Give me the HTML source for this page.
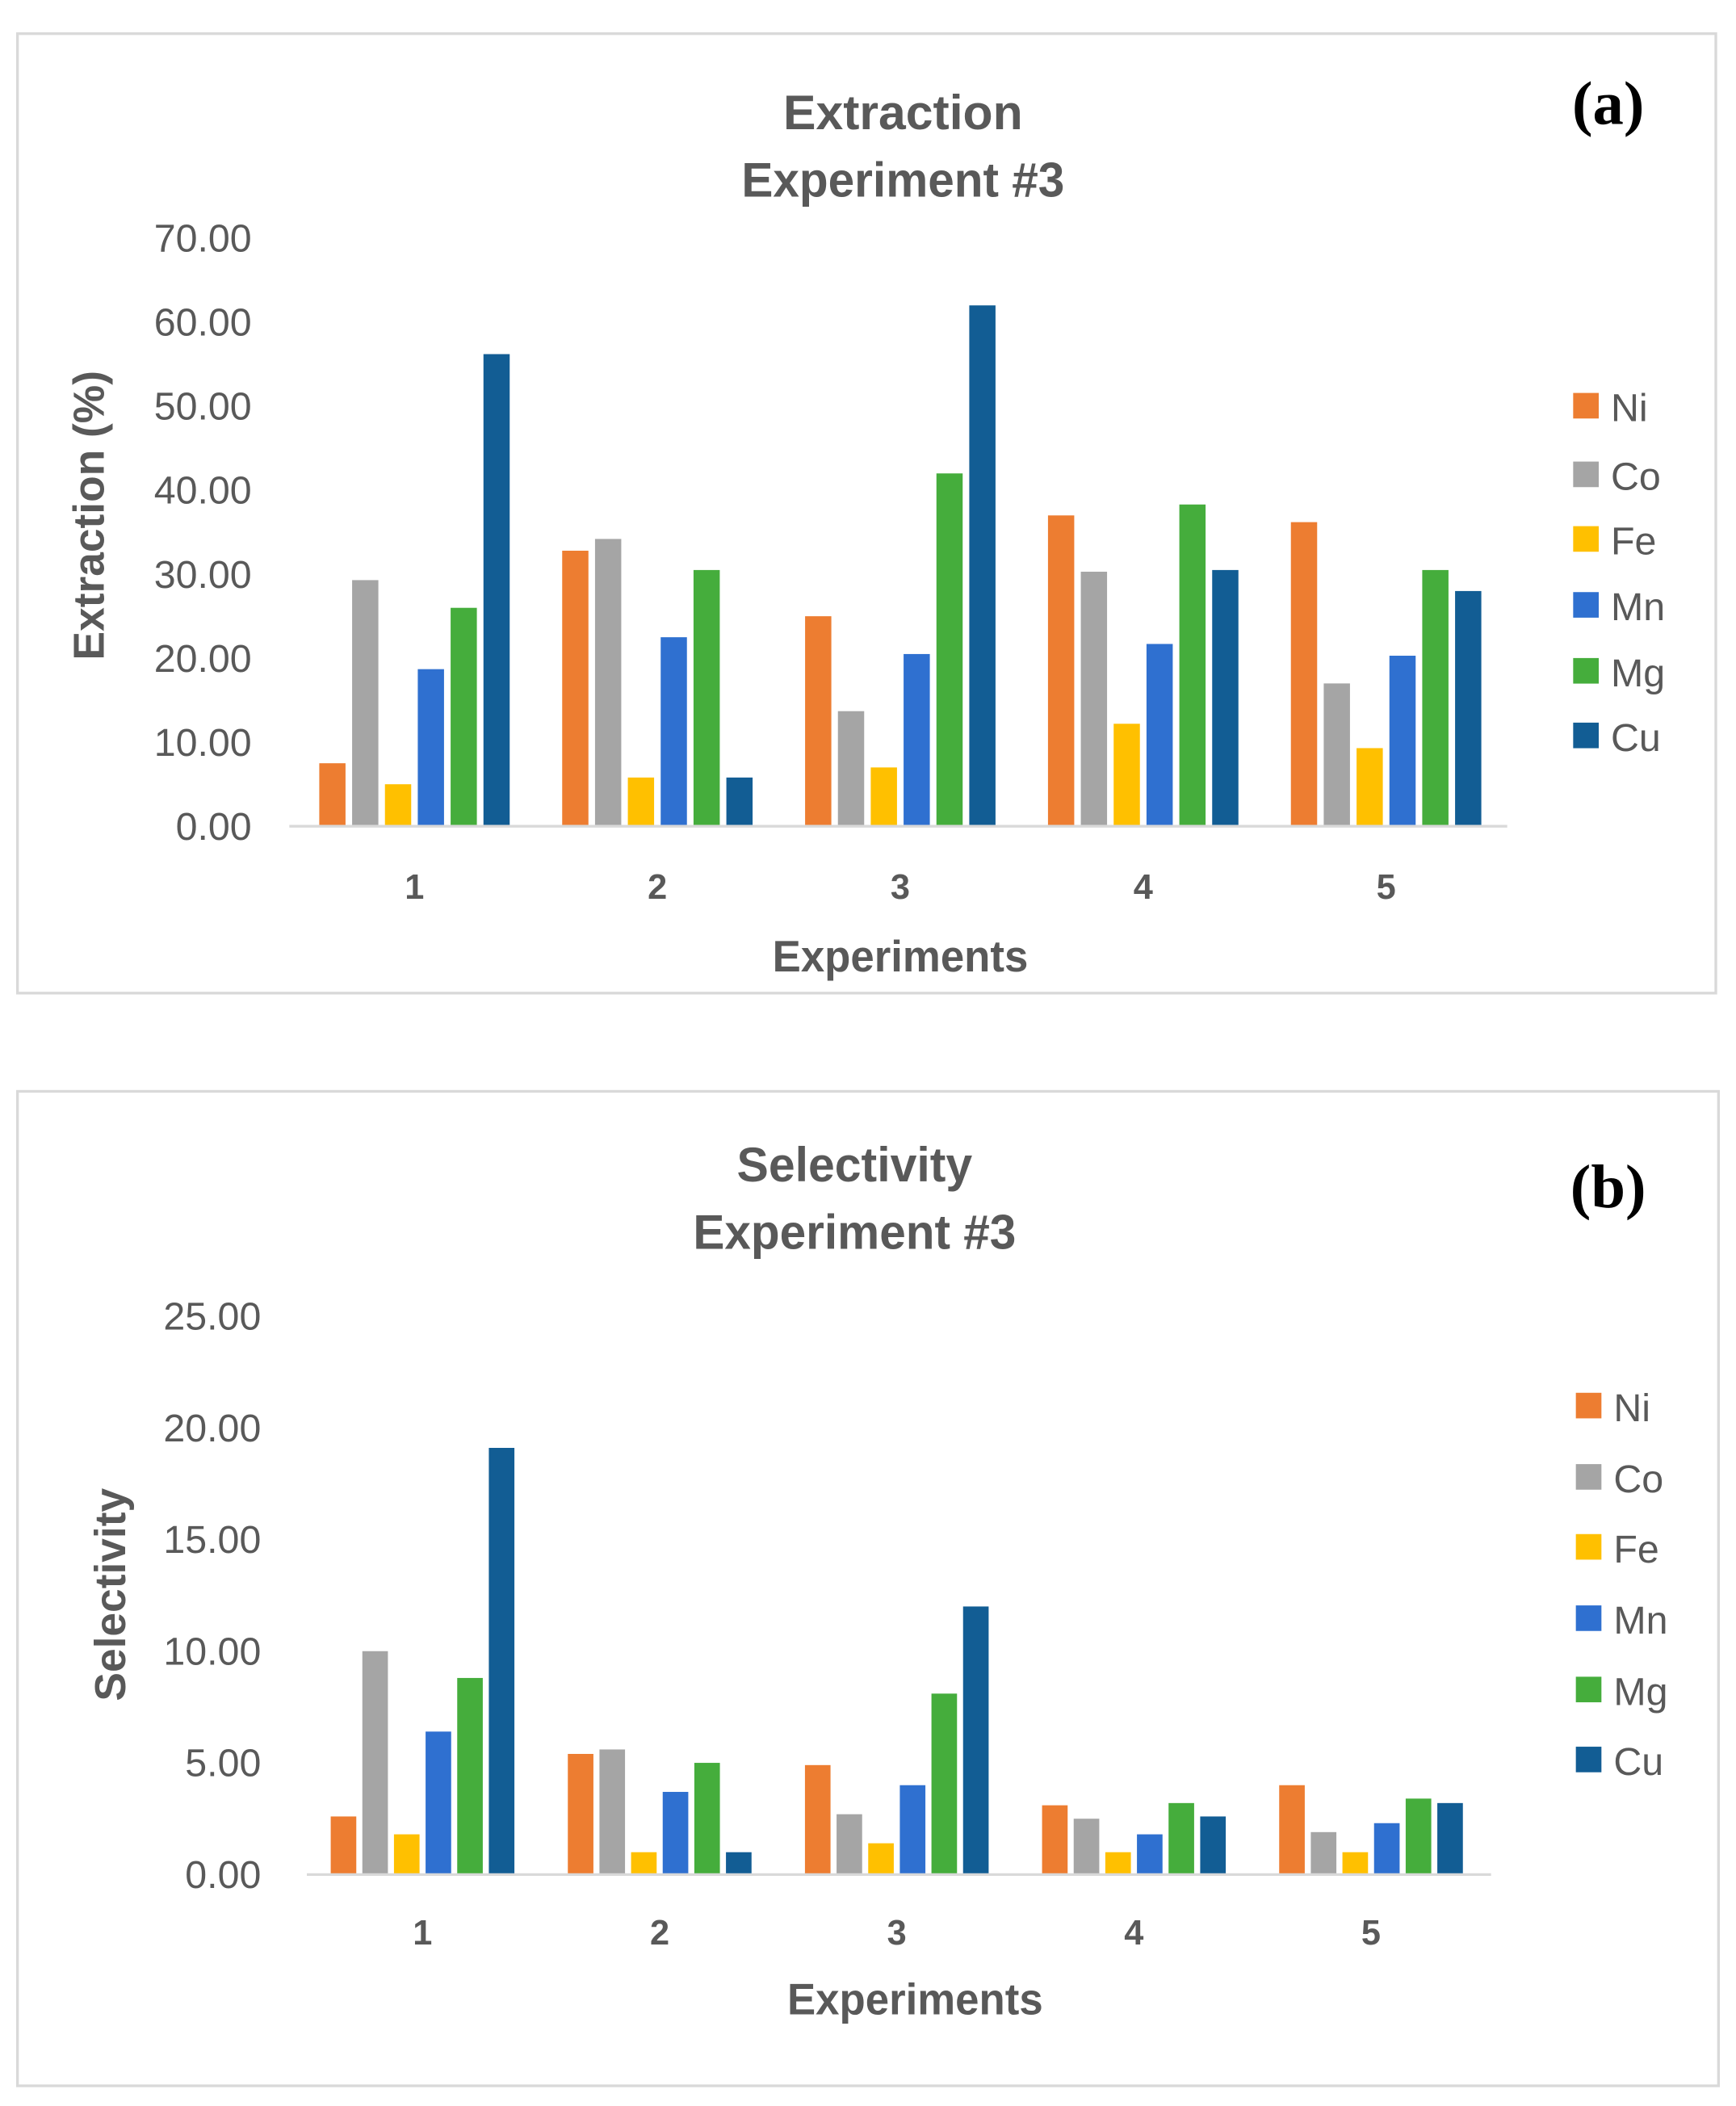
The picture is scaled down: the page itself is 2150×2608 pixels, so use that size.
<!DOCTYPE html>
<html><head><meta charset="utf-8"><style>
html,body{margin:0;padding:0;background:#fff;}
svg{display:block;}
text{font-family:"Liberation Sans",sans-serif;}
</style></head><body>
<svg id="chart" width="2150" height="2608" viewBox="0 0 1290 1565" preserveAspectRatio="none" xmlns="http://www.w3.org/2000/svg"></svg>
<script>
const categories = ["1","2","3","4","5"];
const seriesNames = ["Ni","Co","Fe","Mn","Mg","Cu"];
const seriesColors = ["#ED7D31","#A5A5A5","#FFC000","#2F70D0","#45AD3C","#125D94"];
const extNi = [7.5,32.8,25.0,37.0,36.2];
const extCo = [29.3,34.2,13.7,30.3,17.0];
const extFe = [5.0,5.8,7.0,12.2,9.3];
const extMn = [18.7,22.5,20.5,21.7,20.3];
const extMg = [26.0,30.5,42.0,38.3,30.5];
const extCu = [56.2,5.8,62.0,30.5,28.0];
const selNi = [2.6,5.4,4.9,3.1,4.0];
const selCo = [10.0,5.6,2.7,2.5,1.9];
const selFe = [1.8,1.0,1.4,1.0,1.0];
const selMn = [6.4,3.7,4.0,1.8,2.3];
const selMg = [8.8,5.0,8.1,3.2,3.4];
const selCu = [19.1,1.0,12.0,2.6,3.2];
const extTicks = [0,10,20,30,40,50,60,70];
const selTicks = [0,5,10,15,20,25];

const svg = document.getElementById('chart');
const NS = 'http://www.w3.org/2000/svg';
function mk(tag, attrs, parent, text){
  const e = document.createElementNS(NS, tag);
  for (const k in attrs) e.setAttribute(k, attrs[k]);
  if (text !== undefined) e.textContent = text;
  (parent||svg).appendChild(e);
  return e;
}

function panel(cfg){
  const g = mk('g', {});
  
  
  const box = mk('rect', {x:cfg.box[0], y:cfg.box[1], width:cfg.box[2], height:cfg.box[3], fill:'#fff', stroke:'#D9D9D9', 'stroke-width':2}, g);
  
  
  const yScale = v => cfg.y0 - (v - 0) / cfg.yMax * (cfg.y0 - cfg.yTop);
  const xCenter = i => cfg.xFirst + i * cfg.xStep;
  cfg.ticks.forEach(t => {
    const tl = mk('text', {x:cfg.tickRight, y:yScale(t)+10, 'text-anchor':'end', 'font-size':29, fill:'#595959'}, g, t.toFixed(2));
    
    
  });
  const n = cfg.series.length;
  cfg.series.forEach((vals, si) => {
    vals.forEach((v, ci) => {
      const x = xCenter(ci) + (si - (n-1)/2) * cfg.stride - cfg.barW/2;
      const y = yScale(v);
      const r = mk('rect', {x:x, y:y, width:cfg.barW, height:cfg.y0 - y, fill:seriesColors[si]}, g);
      
      
    });
  });
  const ax = mk('line', {x1:cfg.axisL, x2:cfg.axisR, y1:cfg.y0, y2:cfg.y0, stroke:'#D9D9D9', 'stroke-width':2}, g);
  
  
  categories.forEach((c, ci) => {
    const xl = mk('text', {x:xCenter(ci), y:cfg.xLabelY, 'text-anchor':'middle', 'font-size':26, 'font-weight':'bold', fill:'#595959'}, g, c);
    
    
  });
  const xt = mk('text', {x:cfg.xTitle[0], y:cfg.xTitle[1], 'text-anchor':'middle', 'font-size':33, 'font-weight':'bold', fill:'#595959', textLength:190, lengthAdjust:'spacingAndGlyphs'}, g, 'Experiments');
  
  
  const yt = mk('text', {x:0, y:0, 'text-anchor':'middle', 'font-size':32, 'font-weight':'bold', fill:'#595959', transform:'translate('+cfg.yTitle[0]+','+cfg.yTitle[1]+') rotate(-90)'}, g, cfg.yTitleText);
  
  
  const t1 = mk('text', {x:cfg.titleX, y:cfg.titleY, 'text-anchor':'middle', 'font-size':36, 'font-weight':'bold', fill:'#595959', textLength:cfg.t1Len, lengthAdjust:'spacingAndGlyphs'}, g, cfg.title);
  
  
  const t2 = mk('text', {x:cfg.titleX, y:cfg.titleY+50, 'text-anchor':'middle', 'font-size':36, 'font-weight':'bold', fill:'#595959', textLength:240, lengthAdjust:'spacingAndGlyphs'}, g, 'Experiment #3');
  
  
  const pl = mk('text', {x:cfg.tag[0], y:cfg.tag[1], 'text-anchor':'middle', 'font-size':46, 'font-weight':'bold', fill:'#000', style:'font-family:"Liberation Serif",serif'}, g, cfg.tagText);
  
  
  seriesNames.forEach((s, si) => {
    const ly = cfg.legY[si];
    const lg = mk('g', {}, g);
    
    
    mk('rect', {x:cfg.legX, y:ly-10, width:19, height:19, fill:seriesColors[si]}, lg);
    mk('text', {x:cfg.legX+28, y:ly+11, 'font-size':29, fill:'#595959'}, lg, s);
  });
}

panel({name:'extraction-chart', box:[13,25,1262,713], y0:614, yTop:177, yMax:70, ticks:extTicks,
  tickRight:187, xFirst:308, xStep:180.5, stride:24.4, barW:19.5, axisL:215, axisR:1120,
  series:[extNi,extCo,extFe,extMn,extMg,extCu], xLabelY:668, xTitle:[669,722],
  yTitle:[77,383], yTitleText:'Extraction (%)', title:'Extraction', titleX:671, titleY:96, t1Len:178,
  tag:[1195,92], tagText:'(a)', legX:1169, legY:[302,353,401,450,499,547]});
panel({name:'selectivity-chart', box:[13,811,1264,739], y0:1393, yTop:978, yMax:25, ticks:selTicks,
  tickRight:194, xFirst:314, xStep:176.2, stride:23.5, barW:19, axisL:228, axisR:1108,
  series:[selNi,selCo,selFe,selMn,selMg,selCu], xLabelY:1445, xTitle:[680,1497],
  yTitle:[93,1185], yTitleText:'Selectivity', title:'Selectivity', titleX:635, titleY:878, t1Len:175,
  tag:[1195,897], tagText:'(b)', legX:1171, legY:[1045,1098,1150,1203,1256,1308]});
</script>
</body></html>
